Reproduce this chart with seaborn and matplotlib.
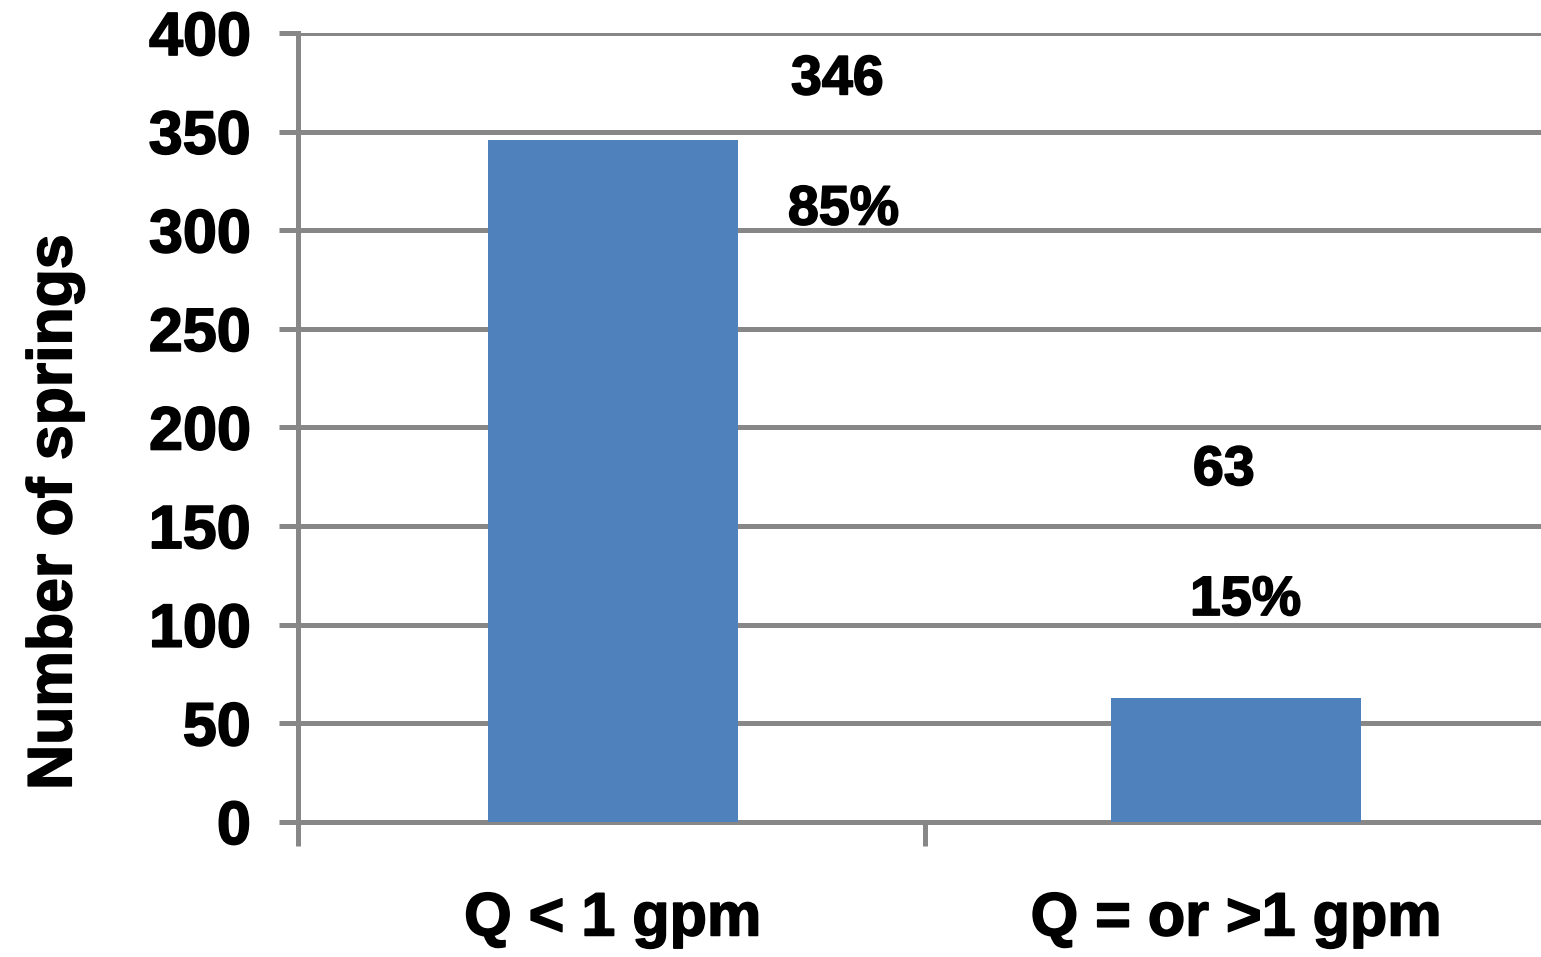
import matplotlib
matplotlib.use("Agg")
import matplotlib.pyplot as plt
import matplotlib.patheffects as pe
import seaborn as sns
import pandas as pd
from matplotlib.ticker import FixedLocator

# Spring discharge classes and counts
categories = ["Q < 1 gpm", "Q = or >1 gpm"]
counts = [346, 63]
y_ticks = [0, 50, 100, 150, 200, 250, 300, 350, 400]

sns.set_theme(style="white")
plt.rcParams["font.family"] = ["Liberation Sans", "DejaVu Sans"]
plt.rcParams["font.weight"] = "bold"

GRAY = "#878787"
BLUE = "#4F81BD"
heavy = [pe.withStroke(linewidth=1.2, foreground="black")]

df = pd.DataFrame({"cls": categories, "n": counts})
total = sum(counts)
shares = [f"{round(100 * c / total)}%" for c in counts]

fig = plt.figure(figsize=(15.41, 9.57), dpi=100)
ax = fig.add_axes([0.1934, 0.1411, 0.8066, 0.8244])

sns.barplot(data=df, x="cls", y="n", color=BLUE, saturation=1, width=0.401,
            linewidth=0, edgecolor="none", ax=ax, zorder=2)

ax.set_xlim(-0.505, 1.489)
ax.set_ylim(0, 400)
ax.set_yticks(y_ticks)
ax.set_yticklabels([str(v) for v in y_ticks], fontsize=44, fontweight="bold")
ax.set_xticks(range(len(categories)))
ax.set_xticklabels(categories, fontsize=44, fontweight="bold")
for lbl in ax.get_xticklabels() + ax.get_yticklabels():
    lbl.set_path_effects(heavy)

# Gridlines and axes styling
ax.set_axisbelow(True)
ax.yaxis.grid(True, color=GRAY, linewidth=3.6, zorder=0)
ax.xaxis.grid(False)
for side in ("top", "right"):
    ax.spines[side].set_visible(False)
for side in ("left", "bottom"):
    ax.spines[side].set_color(GRAY)
    ax.spines[side].set_linewidth(3.6)
    ax.spines[side].set_zorder(1)

ax.tick_params(axis="y", which="major", length=14, width=3.6, color=GRAY,
               pad=20, labelcolor="black", left=True)
ax.tick_params(axis="x", which="major", length=0, pad=50, labelcolor="black")
ax.xaxis.set_minor_locator(FixedLocator([-0.505, 0.5]))
ax.tick_params(axis="x", which="minor", length=17, width=3.6, color=GRAY,
               bottom=True)

ax.set_xlabel("")
ax.set_ylabel("Number of springs", fontsize=45, fontweight="bold", color="black",
              path_effects=heavy)
ax.yaxis.set_label_coords(-0.172, 0.393)

# Value and share labels beside each bar
label_offsets = [(0.36, 30, 0.37, -36), (-0.02, 115, 0.015, 49)]
for i, (c, s) in enumerate(zip(counts, shares)):
    dx1, dy1, dx2, dy2 = label_offsets[i]
    ax.text(i + dx1, c + dy1, str(c), ha="center", va="center",
            fontsize=40, fontweight="bold", color="black", path_effects=heavy)
    ax.text(i + dx2, c + dy2, s, ha="center", va="center",
            fontsize=40, fontweight="bold", color="black", path_effects=heavy)

fig.savefig("out.png", dpi=100, facecolor="white")
